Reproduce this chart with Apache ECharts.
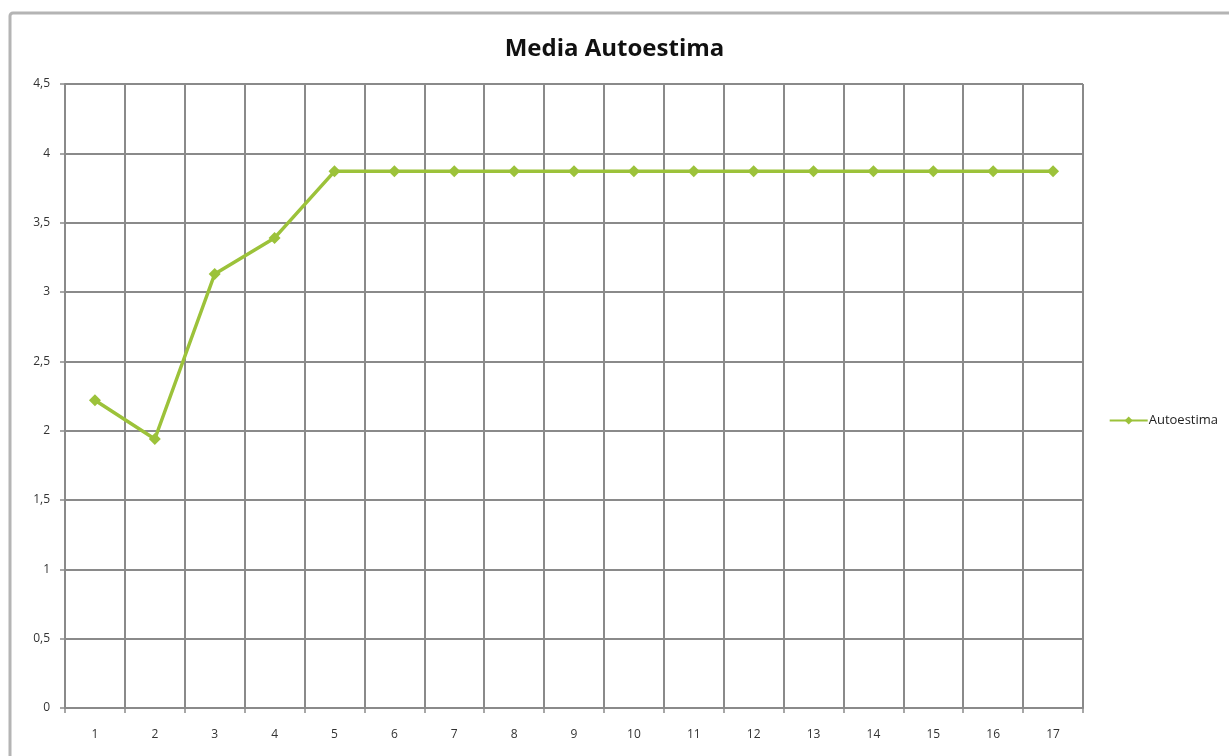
<!DOCTYPE html>
<html>
<head>
<meta charset="utf-8">
<script src="https://cdn.jsdelivr.net/npm/echarts@6/dist/echarts.min.js"></script>
<style>
  html, body { margin: 0; padding: 0; background: #fff; }
  #chart { width: 1229px; height: 756px; }
</style>
</head>
<body>
<div id="chart"></div>
<script>
// Sessions 1..17 and the average self-esteem score per session
const categories = ['1','2','3','4','5','6','7','8','9','10','11','12','13','14','15','16','17'];
const autoestima = [2.22, 1.94, 3.13, 3.39, 3.87, 3.87, 3.87, 3.87, 3.87, 3.87, 3.87, 3.87, 3.87, 3.87, 3.87, 3.87, 3.87];
const yTicks = { min: 0, max: 4.5, interval: 0.5 };

const green = '#9cc23a';
const gridGray = '#8a8a8a';

const chart = echarts.init(document.getElementById('chart'));
chart.setOption({
  backgroundColor: '#fff',
  animation: false,
  graphic: [{
    type: 'rect',
    shape: { x: 10, y: 13, width: 1240, height: 760, r: 3 },
    style: { fill: 'none', stroke: '#b4b4b4', lineWidth: 3 },
    silent: true
  }],
  title: {
    text: 'Media Autoestima',
    left: 'center',
    top: 32,
    textStyle: { fontFamily: 'Open Sans', fontWeight: 'bold', fontSize: 24, color: '#111' }
  },
  legend: {
    data: ['Autoestima'],
    right: 6,
    top: 409,
    itemWidth: 38,
    itemHeight: 10,
    itemGap: 2,
    textStyle: { fontFamily: 'Open Sans', fontSize: 13, color: '#222', padding: [0, 0, 0, -4] }
  },
  grid: { left: 65, right: 146, top: 84, bottom: 48, containLabel: false },
  xAxis: {
    type: 'category',
    data: categories,
    boundaryGap: true,
    axisLine: { lineStyle: { color: gridGray, width: 2 } },
    axisTick: { show: true, length: 5, lineStyle: { color: gridGray, width: 1.5 } },
    axisLabel: { margin: 21, fontFamily: 'Open Sans', fontSize: 12, color: '#333' },
    splitLine: { show: true, lineStyle: { color: gridGray, width: 2 } }
  },
  yAxis: {
    type: 'value',
    min: yTicks.min,
    max: yTicks.max,
    interval: yTicks.interval,
    axisLine: { show: true, lineStyle: { color: gridGray, width: 2 } },
    axisTick: { show: true, length: 5, lineStyle: { color: gridGray, width: 1.5 } },
    axisLabel: {
      margin: 15,
      fontFamily: 'Open Sans',
      fontSize: 12,
      color: '#333',
      formatter: v => String(v).replace('.', ',')
    },
    splitLine: { show: true, lineStyle: { color: gridGray, width: 2 } }
  },
  series: [{
    name: 'Autoestima',
    type: 'line',
    data: autoestima,
    symbol: 'diamond',
    symbolSize: 12,
    itemStyle: { color: green },
    lineStyle: { color: green, width: 3.5 }
  }]
});
</script>
</body>
</html>
